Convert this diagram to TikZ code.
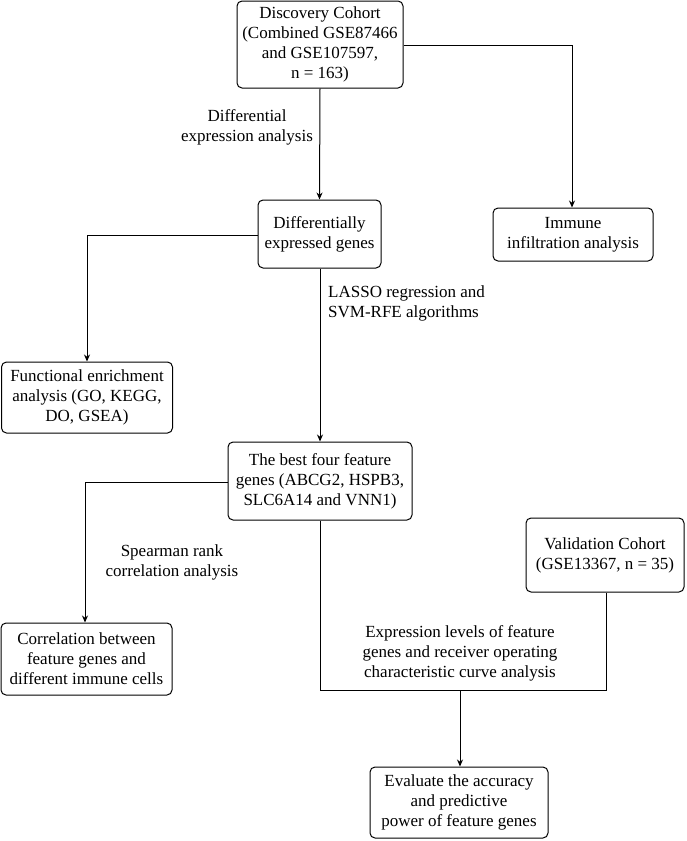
\documentclass[tikz,border=0pt]{standalone}
\usepackage{fontspec}
\setmainfont{Liberation Serif}
\usetikzlibrary{arrows.meta}
\begin{document}
\begin{tikzpicture}[x=1pt,y=-1pt,
  box/.style={draw=black, line width=1pt, rounded corners=5pt, align=center, inner sep=0pt,
    font=\fontsize{17}{20}\selectfont},
  lab/.style={align=center, inner sep=0pt, font=\fontsize{17}{20}\selectfont},
  conn/.style={line width=1pt},
  arr/.style={line width=1pt, -{Stealth[length=7pt,width=6pt]}}]
\useasboundingbox (0,0) rectangle (686,841);
\node[box, minimum width=166pt, minimum height=87pt] (top) at (320,44.5)
  {Discovery Cohort\\(Combined GSE87466\\and GSE107597,\\n = 163)};
\node[box, minimum width=160pt, minimum height=53pt] (imm) at (573,234.5)
  {Immune\\infiltration analysis};
\node[box, minimum width=123pt, minimum height=68pt] (deg) at (319.5,234)
  {Differentially\\expressed genes};
\node[box, minimum width=171pt, minimum height=71pt] (func) at (87,397.5)
  {Functional enrichment\\analysis (GO, KEGG,\\DO, GSEA)};
\node[box, minimum width=184pt, minimum height=78pt] (best) at (320,481)
  {The best four feature\\genes (ABCG2, HSPB3,\\SLC6A14 and VNN1)};
\node[box, minimum width=158pt, minimum height=74pt] (val) at (605,555)
  {Validation Cohort\\(GSE13367, n = 35)};
\node[box, minimum width=171pt, minimum height=72pt] (corr) at (86.5,659)
  {Correlation between\\feature genes and\\different immune cells};
\node[box, minimum width=178pt, minimum height=71pt] (eval) at (459,802.5)
  {Evaluate the accuracy\\and predictive\\power of feature genes};
\node[lab] (l1) at (247,127) {Differential\\expression analysis};
\node[lab, anchor=west, align=left] (l2) at (328,303) {LASSO regression and\\SVM-RFE algorithms};
\node[lab] (l3) at (172,562) {Spearman rank\\correlation analysis};
\node[lab] (l4) at (460,653) {Expression levels of feature\\genes and receiver operating\\characteristic curve analysis};
\coordinate (c1) at (572,45);
\coordinate (c2) at (87,235);
\coordinate (c3) at (85,482);
\coordinate (jl) at (320,690);
\coordinate (jr) at (606,690);
\coordinate (jm) at (460,690);
\draw[arr] (top.south) -- (deg.north);
\draw[arr] (top.east |- c1) -- (c1) -- (imm.north -| c1);
\draw[arr] (deg.west |- c2) -- (c2) -- (func.north -| c2);
\draw[arr] (deg.south -| best.north) -- (best.north);
\draw[arr] (best.west |- c3) -- (c3) -- (corr.north -| c3);
\draw[conn] (best.south -| jl) -- (jl) -- (jr) -- (val.south -| jr);
\draw[arr] (jm) -- (eval.north -| jm);
\end{tikzpicture}
\end{document}
